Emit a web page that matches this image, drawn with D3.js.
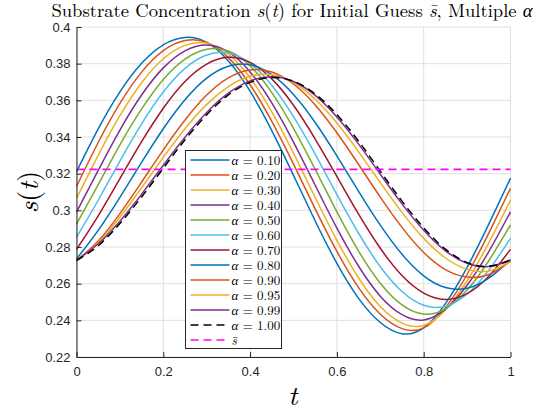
<!DOCTYPE html>
<html>
<head>
<meta charset="utf-8">
<script src="https://cdn.jsdelivr.net/npm/d3@7"></script>
<style>
  body { margin: 0; background: #fff; }
  .tick text { font-family: 'Liberation Sans', Arial, sans-serif; font-size: 13px; fill: #262626; }
  .serif { font-family: 'Latin Modern Roman', 'CMU Serif', 'Liberation Serif', 'DejaVu Serif', serif; fill: #000; }
</style>
</head>
<body>
<div class="chart"></div>
<script>
// time samples shared by every curve
const tValues = [0, 0.05, 0.1, 0.15, 0.2, 0.25, 0.3, 0.35, 0.4, 0.45, 0.5,
  0.55, 0.6, 0.65, 0.7, 0.75, 0.8, 0.85, 0.9, 0.95, 1];

const alphaLabels = ['0.10', '0.20', '0.30', '0.40', '0.50', '0.60', '0.70', '0.80', '0.90', '0.95', '0.99', '1.00'];

// s(t), one array per alpha
const sAlpha010 = [0.321, 0.3444, 0.3646, 0.3802, 0.3903, 0.3943, 0.3916, 0.3815, 0.3650, 0.3435, 0.3191,
  0.2942, 0.2711, 0.2520, 0.2388, 0.2327, 0.2359, 0.2491, 0.2689, 0.2925, 0.3175];
const sAlpha020 = [0.313, 0.3370, 0.3583, 0.3754, 0.3871, 0.3926, 0.3916, 0.3833, 0.3685, 0.3485, 0.3252,
  0.3008, 0.2776, 0.2578, 0.2433, 0.2355, 0.2359, 0.2469, 0.2650, 0.2876, 0.312];
const sAlpha030 = [0.3065, 0.3300, 0.3516, 0.3696, 0.3827, 0.3900, 0.3912, 0.3852, 0.3723, 0.3537, 0.3312,
  0.3070, 0.2836, 0.2631, 0.2475, 0.2385, 0.2372, 0.2457, 0.2616, 0.2823, 0.3056];
const sAlpha040 = [0.299, 0.3218, 0.3438, 0.3629, 0.3777, 0.3870, 0.3902, 0.3864, 0.3755, 0.3586, 0.3372,
  0.3137, 0.2903, 0.2695, 0.2532, 0.2431, 0.2402, 0.2461, 0.2591, 0.2775, 0.2992];
const sAlpha050 = [0.2925, 0.3140, 0.3357, 0.3553, 0.3714, 0.3825, 0.3879, 0.3869, 0.3788, 0.3642, 0.3447,
  0.3223, 0.2992, 0.2778, 0.2602, 0.2484, 0.2434, 0.2463, 0.2565, 0.2725, 0.292];
const sAlpha060 = [0.2853, 0.3055, 0.3269, 0.3472, 0.3645, 0.3774, 0.3847, 0.3858, 0.3802, 0.3682, 0.3511,
  0.3306, 0.3086, 0.2875, 0.2692, 0.2557, 0.2482, 0.2476, 0.2544, 0.2674, 0.2847];
const sAlpha070 = [0.2787, 0.2970, 0.3173, 0.3375, 0.3557, 0.3703, 0.3798, 0.3835, 0.3807, 0.3717, 0.3573,
  0.3389, 0.3185, 0.2979, 0.2793, 0.2644, 0.2548, 0.2514, 0.2546, 0.2641, 0.2787];
const sAlpha080 = [0.2735, 0.2891, 0.3071, 0.3262, 0.3445, 0.3603, 0.3721, 0.3786, 0.3794, 0.3740, 0.3632,
  0.3479, 0.3297, 0.3104, 0.2919, 0.2760, 0.2643, 0.2579, 0.2575, 0.2630, 0.2731];
const sAlpha090 = [0.2725, 0.2832, 0.2982, 0.3154, 0.3330, 0.3493, 0.3629, 0.3723, 0.3766, 0.3755, 0.3689,
  0.3575, 0.3423, 0.3250, 0.3072, 0.2907, 0.2770, 0.2677, 0.2636, 0.2650, 0.2722];
const sAlpha095 = [0.2721, 0.2823, 0.2962, 0.3123, 0.3289, 0.3445, 0.3578, 0.3675, 0.3731, 0.3739, 0.3696,
  0.3606, 0.3476, 0.3319, 0.3151, 0.2989, 0.2847, 0.2740, 0.2678, 0.2669, 0.2722];
const sAlpha099 = [0.2729, 0.2818, 0.2941, 0.3088, 0.3246, 0.3399, 0.3534, 0.3639, 0.3706, 0.3729, 0.3703,
  0.3627, 0.3509, 0.3361, 0.3197, 0.3035, 0.2891, 0.2779, 0.2711, 0.2693, 0.2728];
const sAlpha100 = [0.2727, 0.2807, 0.2928, 0.3073, 0.3230, 0.3385, 0.3522, 0.3630, 0.3698, 0.3724, 0.3704,
  0.3635, 0.3522, 0.3377, 0.3213, 0.3050, 0.2904, 0.2788, 0.2715, 0.2695, 0.2730];

const sBar = 0.3223; // initial guess

const xTicks = [0, 0.2, 0.4, 0.6, 0.8, 1];
const yTicks = [0.22, 0.24, 0.26, 0.28, 0.3, 0.32, 0.34, 0.36, 0.38, 0.4];

const seriesValues = [sAlpha010, sAlpha020, sAlpha030, sAlpha040, sAlpha050, sAlpha060,
  sAlpha070, sAlpha080, sAlpha090, sAlpha095, sAlpha099, sAlpha100];
const lineColors = ['#0072bd', '#d95319', '#edb120', '#7e2f8e', '#77ac30', '#4dbeee',
  '#a2142f', '#0072bd', '#d95319', '#edb120', '#7e2f8e', '#000000'];

const series = alphaLabels.map((label, i) => ({
  label,
  values: seriesValues[i],
  color: lineColors[i],
  dashed: label === '1.00',
}));

const width = 538;
const height = 409;

const svg = d3.select('.chart')
  .append('svg')
  .attr('width', width)
  .attr('height', height);

const xScale = d3.scaleLinear().domain([0, 1]).range([76.5, 510.5]);
const yScale = d3.scaleLinear().domain([0.22, 0.4]).range([357, 27]);

// grid
svg.append('g')
  .selectAll('line')
  .data(xTicks)
  .enter()
  .append('line')
  .attr('x1', d => xScale(d))
  .attr('x2', d => xScale(d))
  .attr('y1', yScale(0.22))
  .attr('y2', yScale(0.4))
  .attr('stroke', '#dfdfdf');

svg.append('g')
  .selectAll('line')
  .data(yTicks)
  .enter()
  .append('line')
  .attr('x1', xScale(0))
  .attr('x2', xScale(1))
  .attr('y1', d => yScale(d))
  .attr('y2', d => yScale(d))
  .attr('stroke', '#dfdfdf');

// curves
const line = d3.line()
  .x((d, i) => xScale(tValues[i]))
  .y(d => yScale(d))
  .curve(d3.curveNatural);

svg.append('g')
  .selectAll('path')
  .data(series)
  .enter()
  .append('path')
  .attr('d', d => line(d.values))
  .attr('fill', 'none')
  .attr('stroke', d => d.color)
  .attr('stroke-width', 1.5)
  .attr('stroke-dasharray', d => (d.dashed ? '8,5' : null));

svg.append('line')
  .attr('x1', xScale(0))
  .attr('x2', xScale(1))
  .attr('y1', yScale(sBar))
  .attr('y2', yScale(sBar))
  .attr('stroke', '#ff00ff')
  .attr('stroke-width', 1.8)
  .attr('stroke-dasharray', '8,5');

// axes, ticks pointing inwards like MATLAB
const xAxis = svg.append('g')
  .attr('transform', `translate(0,${yScale(0.22)})`)
  .call(d3.axisBottom(xScale)
    .tickValues(xTicks)
    .tickFormat(d3.format('~g'))
    .tickSizeInner(-5)
    .tickSizeOuter(0)
    .tickPadding(10));

const yAxis = svg.append('g')
  .attr('transform', `translate(${xScale(0)},0)`)
  .call(d3.axisLeft(yScale)
    .tickValues(yTicks)
    .tickFormat(d3.format('~g'))
    .tickSizeInner(-5)
    .tickSizeOuter(0)
    .tickPadding(6));

[xAxis, yAxis].forEach(axis => {
  axis.select('.domain').attr('stroke', '#262626');
  axis.selectAll('.tick line').attr('stroke', '#262626');
  axis.attr('font-family', null).attr('font-size', null);
});

// title
const title = svg.append('text')
  .attr('class', 'serif')
  .attr('x', 292)
  .attr('y', 17)
  .attr('text-anchor', 'middle')
  .style('font-size', '18.6px')
  .style('white-space', 'pre');
[
  ['Substrate Concentration ', false],
  ['s', true],
  ['(', false],
  ['t', true],
  [') for Initial Guess ', false],
  ['s\u0304', true],
  [', Multiple ', false],
  ['\u03b1', true],
].forEach(([txt, italic]) => {
  title.append('tspan').text(txt).style('font-style', italic ? 'italic' : 'normal');
});

// axis labels
const yLabel = svg.append('text')
  .attr('class', 'serif')
  .attr('transform', `translate(38,192) rotate(-90)`)
  .attr('text-anchor', 'middle')
  .style('font-size', '28px');
yLabel.append('tspan').text('s').style('font-style', 'italic');
yLabel.append('tspan').text('(');
yLabel.append('tspan').text('t').style('font-style', 'italic');
yLabel.append('tspan').text(')');

svg.append('text')
  .attr('class', 'serif')
  .attr('x', 293)
  .attr('y', 405)
  .attr('text-anchor', 'middle')
  .style('font-size', '28px')
  .style('font-style', 'italic')
  .text('t');

// legend
const legendRows = series.map(d => ({ label: d.label, color: d.color, dashed: d.dashed }))
  .concat([{ label: null, color: '#ff00ff', dashed: true }]);

const legend = svg.append('g').attr('transform', 'translate(185.5,150.5)');

legend.append('rect')
  .attr('width', 96)
  .attr('height', 198)
  .attr('fill', '#fff')
  .attr('stroke', '#262626');

const rows = legend.selectAll('g.row')
  .data(legendRows)
  .enter()
  .append('g')
  .attr('class', 'row')
  .attr('transform', (d, i) => `translate(0,${9.5 + i * 15})`);

rows.append('line')
  .attr('x1', 5)
  .attr('x2', 44)
  .attr('stroke', d => d.color)
  .attr('stroke-width', 1.5)
  .attr('stroke-dasharray', d => (d.dashed ? '8,5' : null));

rows.each(function (d) {
  const txt = d3.select(this).append('text')
    .attr('class', 'serif')
    .attr('x', 46)
    .attr('y', 4.5)
    .style('font-size', '13px')
    .style('white-space', 'pre');
  if (d.label) {
    txt.append('tspan').text('\u03b1').style('font-style', 'italic');
    txt.append('tspan').text(` = ${d.label}`);
  } else {
    txt.append('tspan').text('s\u0304').style('font-style', 'italic');
  }
});
</script>
</body>
</html>
